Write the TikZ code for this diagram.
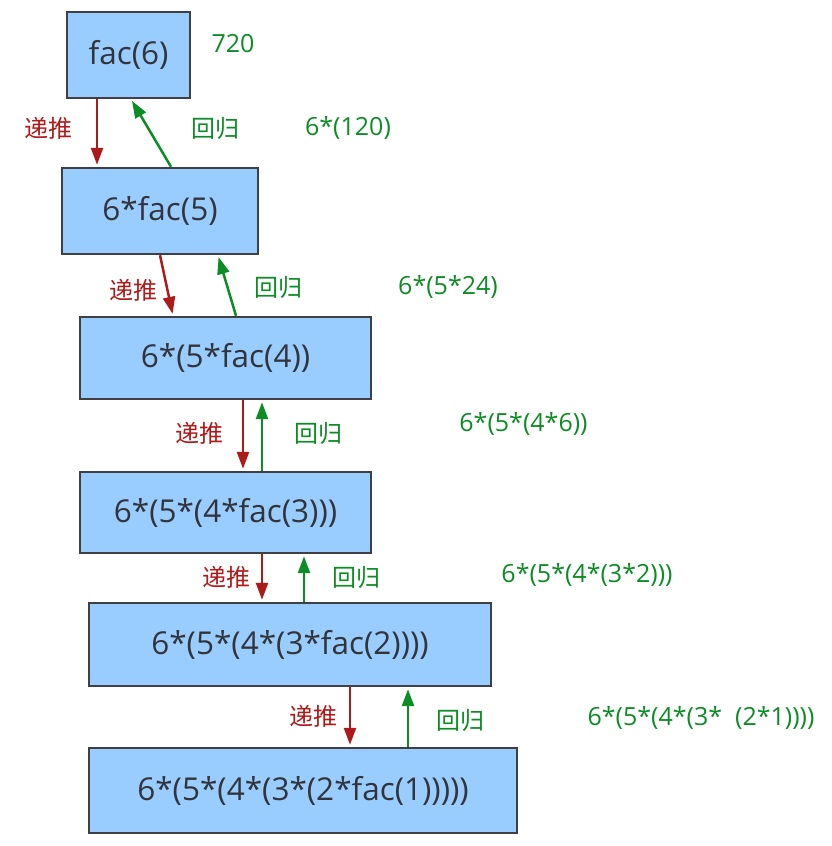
\documentclass[tikz,border=0pt]{standalone}
\usepackage{fontspec}
\setmainfont{Open Sans}
\newfontfamily\cjk{Noto Sans CJK SC}
\usetikzlibrary{arrows.meta}
\definecolor{facblue}{RGB}{153, 204, 255}
\definecolor{facgray}{RGB}{64, 64, 68}
\definecolor{factext}{RGB}{50, 52, 58}
\definecolor{facred}{RGB}{172, 26, 26}
\definecolor{facgreen}{RGB}{12, 140, 36}

\begin{document}
\begin{tikzpicture}[x=1pt, y=-1pt,
  box/.style={rectangle, draw=facgray, line width=2.4pt, fill=facblue,
              inner sep=0pt, text=factext, font=\fontsize{31.5}{36}\selectfont},
  rlbl/.style={font=\cjk\fontsize{24}{28}\selectfont, color=facred},
  glbl/.style={font=\cjk\fontsize{24}{28}\selectfont, color=facgreen},
  val/.style={font=\fontsize{25}{30}\selectfont, color=facgreen},
  rarr/.style={-{Triangle[length=17pt, width=12pt]}, line width=2.5pt, color=facred, shorten >=2pt},
  garr/.style={-{Triangle[length=17pt, width=12pt]}, line width=2.5pt, color=facgreen, shorten >=2pt}
]
  \useasboundingbox (0,0) rectangle (831,846);

  % Boxes, top to bottom
  \node[box, minimum width=123pt, minimum height=86pt] (b1) at (128.5, 55)  {fac(6)};
  \node[box, minimum width=196pt, minimum height=86pt] (b2) at (160, 211)   {6*fac(5)};
  \node[box, minimum width=291pt, minimum height=82pt] (b3) at (225.5, 358) {6*(5*fac(4))};
  \node[box, minimum width=291pt, minimum height=81pt] (b4) at (225.5, 512.5) {6*(5*(4*fac(3)))};
  \node[box, minimum width=402pt, minimum height=83pt] (b5) at (290, 644.5) {6*(5*(4*(3*fac(2))))};
  \node[box, minimum width=428pt, minimum height=85pt] (b6) at (303, 790.5) {6*(5*(4*(3*(2*fac(1)))))};

  % Labels beside the arrows
  \node[rlbl] (r1) at (48, 128)  {递推};
  \node[rlbl] (r2) at (133, 290) {递推};
  \node[rlbl] (r3) at (199, 433) {递推};
  \node[rlbl] (r4) at (226, 577) {递推};
  \node[rlbl] (r5) at (313, 716) {递推};

  \node[glbl] (g1) at (215, 128) {回归};
  \node[glbl] (g2) at (278, 287) {回归};
  \node[glbl] (g3) at (318, 433) {回归};
  \node[glbl] (g4) at (356, 577) {回归};
  \node[glbl] (g5) at (460, 720) {回归};

  % Partial results
  \node[val] (v1) at (233, 44)  {720};
  \node[val] (v2) at (348, 128) {6*(120)};
  \node[val] (v3) at (448, 287) {6*(5*24)};
  \node[val] (v4) at (523.5, 424) {6*(5*(4*6))};
  \node[val] (v5) at (587, 575) {6*(5*(4*(3*2)))};
  \node[val] (v6) at (701, 718) {6*(5*(4*(3*\ \ (2*1))))};

  % Arrows down (red) and back up (green)
  \draw[rarr] (97,0 |- b1.south)  -- (97,0 |- b2.north);
  \draw[rarr] (160,0 |- b2.south) -- (173,0 |- b3.north);
  \draw[rarr] (243,0 |- b3.south) -- (243,0 |- b4.north);
  \draw[rarr] (262,0 |- b4.south) -- (262,0 |- b5.north);
  \draw[rarr] (350,0 |- b5.south) -- (350,0 |- b6.north);

  \draw[garr] (171,0 |- b2.north) -- (131,0 |- b1.south);
  \draw[garr] (236,0 |- b3.north) -- (218,0 |- b2.south);
  \draw[garr] (262,0 |- b4.north) -- (262,0 |- b3.south);
  \draw[garr] (304,0 |- b5.north) -- (304,0 |- b4.south);
  \draw[garr] (408,0 |- b6.north) -- (408,0 |- b5.south);
\end{tikzpicture}
\end{document}
